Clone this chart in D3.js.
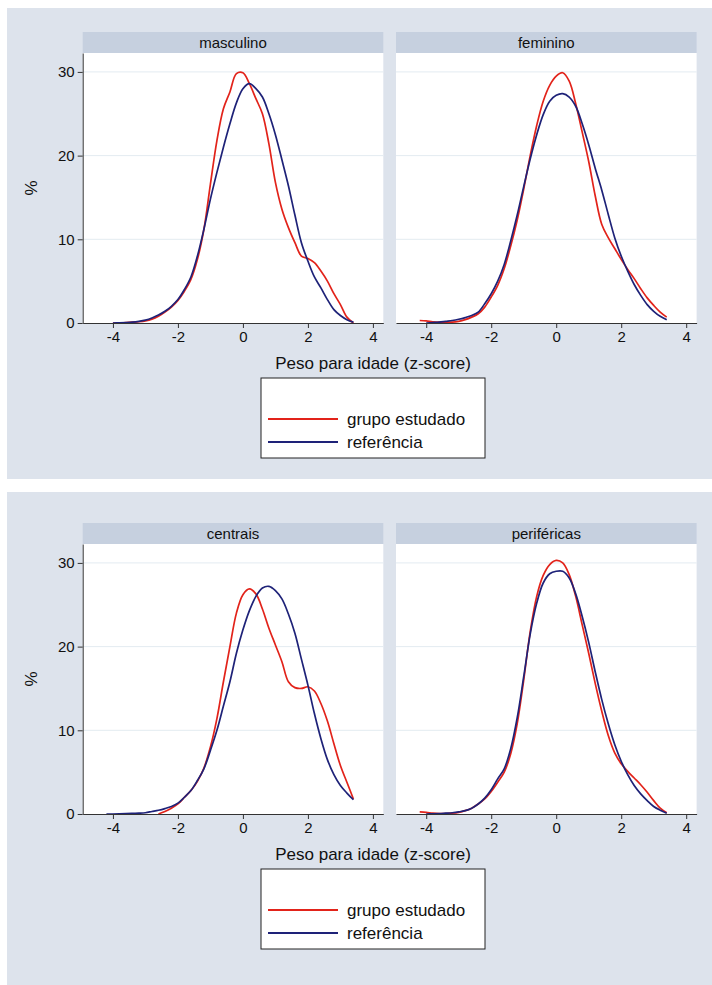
<!DOCTYPE html>
<html>
<head>
<meta charset="utf-8">
<script src="https://cdn.jsdelivr.net/npm/d3@7"></script>
<style>
  body { margin: 0; background: #fff; }
  svg { display: block; }
  text { font-family: "Liberation Sans", Arial, sans-serif; fill: #111; }
</style>
</head>
<body>
<div id="chart"></div>
<script>
// z-score grid shared by all curves
const zGrid = [-4.2, -4.0, -3.8, -3.6, -3.4, -3.2, -3.0, -2.8, -2.6, -2.4, -2.2, -2.0, -1.8, -1.6, -1.4, -1.2, -1.0, -0.8, -0.6, -0.4, -0.2, 0, 0.2, 0.4, 0.6, 0.8, 1.0, 1.2, 1.4, 1.6, 1.8, 2.0, 2.2, 2.4, 2.6, 2.8, 3.0, 3.2, 3.4];

const topPanels = ["masculino", "feminino"];
const bottomPanels = ["centrais", "periféricas"];
const seriesNames = ["grupo estudado", "referência"];

// % values (null = curve not drawn there)
const mascGrupo = [null, 0.0, 0.0, 0.05, 0.1, 0.15, 0.25, 0.45, 0.8, 1.3, 1.9, 2.7, 3.8, 5.2, 7.6, 11.2, 16.6, 21.8, 25.6, 27.6, 29.8, 29.9, 28.6, 26.8, 25.0, 21.4, 16.8, 13.6, 11.4, 9.6, 8.0, 7.7, 7.2, 6.2, 5.0, 3.5, 2.2, 0.7, 0.0];
const mascRef = [null, 0.0, 0.02, 0.05, 0.1, 0.2, 0.35, 0.6, 0.95, 1.4, 2.0, 2.8, 4.0, 5.5, 8.0, 11.2, 14.8, 18.0, 21.0, 23.8, 26.3, 28.0, 28.6, 28.0, 27.0, 25.0, 22.5, 19.5, 16.4, 12.9, 9.6, 7.4, 5.5, 4.2, 2.8, 1.6, 0.9, 0.4, 0.1];
const femGrupo = [0.3, 0.25, 0.15, 0.1, 0.1, 0.1, 0.2, 0.4, 0.7, 1.1, 1.9, 3.1, 4.5, 6.5, 9.2, 12.3, 16.0, 20.0, 23.6, 26.5, 28.4, 29.5, 29.9, 28.9, 26.2, 22.8, 19.3, 15.2, 11.8, 10.2, 8.9, 7.6, 6.4, 5.3, 4.1, 3.0, 2.1, 1.3, 0.7];
const femRef = [null, 0.0, 0.05, 0.1, 0.2, 0.3, 0.45, 0.65, 0.9, 1.3, 2.3, 3.5, 5.0, 7.0, 9.8, 12.9, 16.3, 19.6, 22.5, 24.9, 26.5, 27.2, 27.4, 27.0, 25.9, 23.8, 21.3, 18.5, 15.9, 13.0, 10.2, 8.0, 6.2, 4.6, 3.3, 2.2, 1.4, 0.8, 0.4];
const centGrupo = [null, null, null, null, null, null, null, null, 0.0, 0.3, 0.7, 1.2, 2.0, 2.8, 3.9, 5.5, 8.0, 11.4, 15.8, 20.0, 24.0, 26.2, 26.9, 26.3, 24.5, 22.2, 20.2, 18.2, 15.8, 15.1, 15.0, 15.2, 14.7, 13.2, 11.1, 8.4, 5.8, 3.8, 1.8];
const centRef = [0.0, 0.0, 0.02, 0.05, 0.08, 0.1, 0.15, 0.3, 0.45, 0.65, 0.9, 1.3, 2.0, 2.8, 4.0, 5.4, 7.6, 10.0, 12.9, 15.8, 19.2, 22.0, 24.3, 26.0, 27.0, 27.2, 26.7, 25.7, 23.9, 21.6, 18.5, 15.4, 12.0, 9.0, 6.5, 4.7, 3.4, 2.5, 1.7];
const perifGrupo = [0.25, 0.2, 0.1, 0.05, 0.05, 0.1, 0.2, 0.4, 0.7, 1.2, 1.8, 2.7, 3.8, 5.0, 7.2, 10.8, 16.0, 21.8, 26.0, 28.5, 29.8, 30.3, 30.0, 28.6, 26.0, 22.6, 19.2, 15.6, 12.3, 9.4, 7.3, 6.0, 5.1, 4.3, 3.5, 2.6, 1.6, 0.7, 0.15];
const perifRef = [null, 0.0, 0.02, 0.05, 0.1, 0.15, 0.25, 0.4, 0.7, 1.2, 1.9, 2.9, 4.2, 5.4, 7.8, 11.5, 16.4, 21.5, 25.2, 27.6, 28.7, 29.0, 29.0, 28.2, 26.3, 23.6, 20.5, 17.0, 13.7, 10.8, 8.3, 6.3, 4.7, 3.4, 2.4, 1.6, 0.9, 0.45, 0.1];

const xTicks = [-4, -2, 0, 2, 4];
const yTicks = [0, 10, 20, 30];
const yTitle = "%";
const xTitle = "Peso para idade (z-score)";

const colors = ["#e2231a", "#1e2278"];
const bgColor = "#dde3ec";
const stripColor = "#c6d0df";

const width = 712, height = 985;

const svg = d3.select("#chart").append("svg")
  .attr("width", width)
  .attr("height", height);

svg.append("rect").attr("width", width).attr("height", height).attr("fill", "#fff");

const figures = [
  { top: 8, bottom: 479, dy: 0, panels: topPanels, data: [[mascGrupo, mascRef], [femGrupo, femRef]] },
  { top: 492, bottom: 985, dy: 491, panels: bottomPanels, data: [[centGrupo, centRef], [perifGrupo, perifRef]] }
];

const panelLeft = [82.7, 396];
const panelW = 300.6;

const line = d3.line()
  .defined(d => d[1] != null)
  .curve(d3.curveCatmullRom.alpha(0.5));

figures.forEach(fig => {
  const g = svg.append("g");
  const dy = fig.dy;

  g.append("rect")
    .attr("x", 7).attr("y", fig.top)
    .attr("width", width - 7).attr("height", fig.bottom - fig.top)
    .attr("fill", bgColor);

  const y = d3.scaleLinear().domain([0, 32.26]).range([323 + dy, 53 + dy]);

  fig.panels.forEach((name, i) => {
    const left = panelLeft[i];
    const x = d3.scaleLinear().domain([-4.93, 4.32]).range([left, left + panelW]);

    // strip
    g.append("rect")
      .attr("x", left).attr("y", 32 + dy)
      .attr("width", panelW).attr("height", 21)
      .attr("fill", stripColor);
    g.append("text")
      .attr("x", left + panelW / 2).attr("y", 43 + dy)
      .attr("dy", "0.35em")
      .attr("text-anchor", "middle")
      .style("font-size", "15px")
      .text(name);

    // plot area
    g.append("rect")
      .attr("x", left).attr("y", 53 + dy)
      .attr("width", panelW).attr("height", 270)
      .attr("fill", "#fff");

    g.selectAll(null)
      .data(yTicks.filter(t => t > 0))
      .enter().append("line")
      .attr("x1", left).attr("x2", left + panelW)
      .attr("y1", d => y(d)).attr("y2", d => y(d))
      .attr("stroke", "#e3ebf1")
      .attr("stroke-width", 1);

    // curves
    fig.data[i].forEach((vals, k) => {
      const pts = zGrid.map((z, j) => [z, vals[j]]);
      g.append("path")
        .attr("d", line.x(d => x(d[0])).y(d => y(d[1]))(pts))
        .attr("fill", "none")
        .attr("stroke", colors[k])
        .attr("stroke-width", 1.7);
    });

    const xAxis = g.append("g")
      .attr("transform", `translate(0,${323 + dy})`)
      .call(d3.axisBottom(x).tickValues(xTicks).tickFormat(d => String(d))
        .tickSize(5).tickSizeOuter(0).tickPadding(3));
    xAxis.select(".domain").attr("stroke", "#333");
    xAxis.selectAll(".tick line").attr("stroke", "#333");
    xAxis.selectAll("text").style("font-size", "15px").attr("fill", "#111");

    if (i === 0) {
      const yAxis = g.append("g")
        .attr("transform", `translate(${left},0)`)
        .call(d3.axisLeft(y).tickValues(yTicks).tickFormat(d => String(d))
          .tickSize(5).tickSizeOuter(0).tickPadding(3));
      yAxis.select(".domain").attr("stroke", "#333");
      yAxis.selectAll(".tick line").attr("stroke", "#333");
      yAxis.selectAll("text").style("font-size", "15px").attr("fill", "#111");
    }
  });

  g.append("text")
    .attr("transform", `translate(31,${188 + dy}) rotate(-90)`)
    .attr("text-anchor", "middle")
    .attr("dy", "0.35em")
    .style("font-size", "17px")
    .text(yTitle);

  g.append("text")
    .attr("x", 373).attr("y", 363 + dy)
    .attr("dy", "0.35em")
    .attr("text-anchor", "middle")
    .style("font-size", "17px")
    .text(xTitle);

  // legend
  const lg = g.append("g").attr("transform", `translate(261,${378 + dy})`);
  lg.append("rect")
    .attr("width", 224).attr("height", 80)
    .attr("fill", "#fff")
    .attr("stroke", "#222")
    .attr("stroke-width", 1);
  seriesNames.forEach((s, k) => {
    const ly = 41 + k * 23;
    lg.append("line")
      .attr("x1", 7).attr("x2", 77)
      .attr("y1", ly).attr("y2", ly)
      .attr("stroke", colors[k])
      .attr("stroke-width", 2);
    lg.append("text")
      .attr("x", 86).attr("y", ly)
      .attr("dy", "0.35em")
      .style("font-size", "17px")
      .text(s);
  });
});
</script>
</body>
</html>
